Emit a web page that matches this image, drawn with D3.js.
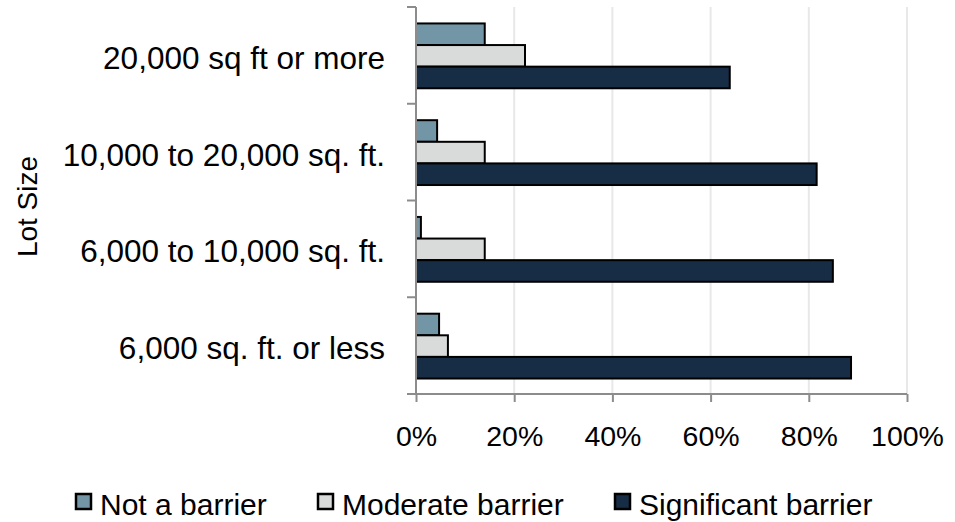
<!DOCTYPE html>
<html>
<head>
<meta charset="utf-8">
<script src="https://cdn.jsdelivr.net/npm/d3@7"></script>
<style>
  body { margin: 0; background: #fff; }
  svg { display: block; font-family: "Liberation Sans", Arial, sans-serif; }
</style>
</head>
<body>
<svg id="chart" width="955" height="522"></svg>
<script>
// lot size categories, top to bottom
var categories = ["20,000 sq ft or more", "10,000 to 20,000 sq. ft.", "6,000 to 10,000 sq. ft.", "6,000 sq. ft. or less"];

var seriesNames = ["Not a barrier", "Moderate barrier", "Significant barrier"];
var seriesColors = ["#7396a7", "#d9dbda", "#172c45"];

// percent of respondents
var notBarrier = [14.0, 4.3, 1.0, 4.7];
var moderateBarrier = [22.2, 14.0, 14.0, 6.5];
var significantBarrier = [63.9, 81.6, 84.9, 88.6];

var xTicks = [0, 20, 40, 60, 80, 100];

var margin = { top: 7, right: 48, bottom: 128, left: 416 };
var width = 955 - margin.left - margin.right;
var height = 522 - margin.top - margin.bottom;

var seriesValues = [notBarrier, moderateBarrier, significantBarrier];

var svg = d3.select("#chart");
var graph = svg.append("g")
    .attr("transform", "translate(" + margin.left + "," + margin.top + ")");

var x = d3.scaleLinear().domain([0, 100]).range([0, width]);
var y = d3.scaleBand().domain(categories).range([0, height]).padding(0);
var inner = d3.scaleBand().domain(seriesNames)
    .range([y.bandwidth() * 0.17, y.bandwidth() * 0.84]).padding(0);

// gridlines
graph.append("g").selectAll("line")
    .data(xTicks.filter(function (d) { return d > 0; }))
    .enter().append("line")
    .attr("x1", function (d) { return x(d); })
    .attr("x2", function (d) { return x(d); })
    .attr("y1", 0)
    .attr("y2", height)
    .attr("stroke", "#e8e8e8")
    .attr("stroke-width", 2);

// bars
var groups = graph.append("g").selectAll("g")
    .data(categories)
    .enter().append("g")
    .attr("transform", function (d) { return "translate(0," + y(d) + ")"; });

groups.selectAll("rect")
    .data(function (d, i) {
        return seriesNames.map(function (s, j) {
            return { series: s, value: seriesValues[j][i], color: seriesColors[j] };
        });
    })
    .enter().append("rect")
    .attr("x", x(0))
    .attr("y", function (d) { return inner(d.series); })
    .attr("width", function (d) { return x(d.value) - x(0); })
    .attr("height", inner.bandwidth())
    .attr("fill", function (d) { return d.color; })
    .attr("stroke", "#000")
    .attr("stroke-width", 2);

// x axis
var xAxis = d3.axisBottom(x)
    .tickValues(xTicks)
    .tickSize(8)
    .tickPadding(24)
    .tickFormat(function (d) { return d + "%"; });

var xg = graph.append("g")
    .attr("transform", "translate(0," + height + ")")
    .call(xAxis);
xg.select(".domain").remove();
xg.selectAll(".tick line").attr("stroke", "#8c8c8c").attr("stroke-width", 2);
xg.selectAll(".tick text")
    .attr("font-size", "28.5px")
    .attr("font-family", "Liberation Sans, Arial, sans-serif")
    .attr("fill", "#000");

graph.append("line")
    .attr("x1", -9).attr("x2", width)
    .attr("y1", height).attr("y2", height)
    .attr("stroke", "#8c8c8c").attr("stroke-width", 2);

// y axis with ticks at band boundaries
graph.append("line")
    .attr("x1", 0).attr("x2", 0)
    .attr("y1", 0).attr("y2", height)
    .attr("stroke", "#8c8c8c").attr("stroke-width", 2);

graph.append("g").selectAll("line")
    .data(categories)
    .enter().append("line")
    .attr("x1", -9).attr("x2", 0)
    .attr("y1", function (d) { return y(d); })
    .attr("y2", function (d) { return y(d); })
    .attr("stroke", "#8c8c8c").attr("stroke-width", 2);

graph.append("g").selectAll("text")
    .data(categories)
    .enter().append("text")
    .attr("x", -31)
    .attr("y", function (d) { return y(d) + y.bandwidth() / 2; })
    .attr("dy", "0.43em")
    .attr("text-anchor", "end")
    .attr("font-size", "31.5px")
    .text(function (d) { return d; });

// axis title
svg.append("text")
    .attr("transform", "translate(37," + (margin.top + height / 2 + 6) + ") rotate(-90)")
    .attr("text-anchor", "middle")
    .attr("font-size", "28px")
    .text("Lot Size");

// legend
var legendX = [75, 317, 614];
var legend = svg.append("g").selectAll("g")
    .data(seriesNames)
    .enter().append("g")
    .attr("transform", function (d, i) { return "translate(" + legendX[i] + ",493)"; });

legend.append("rect")
    .attr("x", 1).attr("y", 1)
    .attr("width", 15).attr("height", 15)
    .attr("fill", function (d, i) { return seriesColors[i]; })
    .attr("stroke", "#000")
    .attr("stroke-width", 2.5);

legend.append("text")
    .attr("x", 25)
    .attr("y", 22)
    .attr("font-size", "30px")
    .text(function (d) { return d; });
</script>
</body>
</html>
